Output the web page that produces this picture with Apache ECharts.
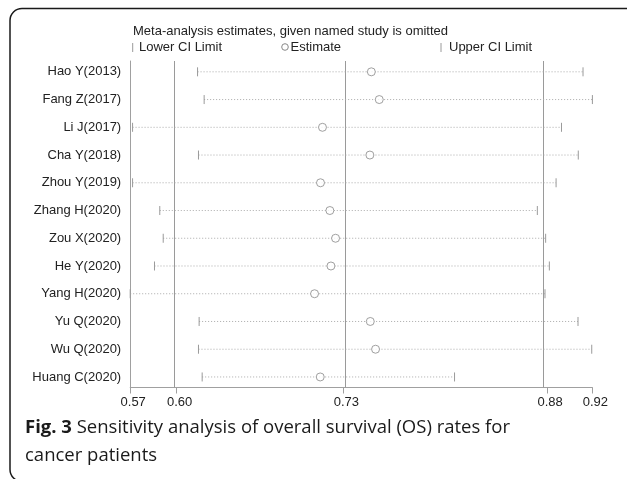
<!DOCTYPE html>
<html><head><meta charset="utf-8">
<script src="https://cdn.jsdelivr.net/npm/echarts@6/dist/echarts.min.js"></script>
<style>html,body{margin:0;padding:0;background:#fff}#c{width:627px;height:479px}</style>
</head><body><div id="c"></div>
<script>
const studies = ['Hao Y(2013)','Fang Z(2017)','Li J(2017)','Cha Y(2018)','Zhou Y(2019)','Zhang H(2020)','Zou X(2020)','He Y(2020)','Yang H(2020)','Yu Q(2020)','Wu Q(2020)','Huang C(2020)'];
const lowerCI  = [0.6180,0.6230,0.5688,0.6187,0.5688,0.5894,0.5920,0.5854,0.5670,0.6192,0.6187,0.6215];
const estimate = [0.7496,0.7556,0.7126,0.7485,0.7111,0.7182,0.7225,0.7190,0.7066,0.7488,0.7528,0.7109];
const upperCI  = [0.9099,0.9170,0.8936,0.9063,0.8895,0.8753,0.8816,0.8844,0.8811,0.9061,0.9165,0.8126];
const overall  = [0.6021,0.7284,0.8827]; // overall lower CI, estimate, upper CI
const legendTitle = 'Meta-analysis estimates, given named study is omitted';
const legendItems = ['Lower CI Limit','Estimate','Upper CI Limit'];
const captionBold = 'Fig. 3';
const captionLine1 = ' Sensitivity analysis of overall survival (OS) rates for';
const captionLine2 = 'cancer patients';

const axisMin = Math.min(...lowerCI), axisMax = Math.max(...upperCI);
const tickValues = [axisMin, ...overall, axisMax];
const rowIdx = studies.map((_, i) => i);

const FONT = 'Arial, "Liberation Sans", sans-serif';
const chart = echarts.init(document.getElementById('c'), null, {renderer: 'canvas'});
const gray = '#9a9a9a';
chart.setOption({
  animation: false,
  backgroundColor: '#fff',
  grid: {left: 130.2, right: 34.6, top: 61, bottom: 91.5, containLabel: false, outerBoundsMode: 'none'},
  xAxis: {
    type: 'value', min: axisMin, max: axisMax,
    axisLine: {show: true, onZero: false, lineStyle: {color: '#a0a0a0', width: 1}},
    axisTick: {show: true, customValues: tickValues, length: 6, lineStyle: {color: '#a0a0a0'}},
    axisLabel: {customValues: tickValues, formatter: v => v.toFixed(2), fontFamily: FONT, fontSize: 13, color: '#222', margin: 8, padding: [0,0,0,6]},
    splitLine: {show: false}
  },
  yAxis: {
    type: 'value', inverse: true, min: -0.39, max: 11.38,
    axisLine: {show: true, onZero: false, lineStyle: {color: '#a0a0a0', width: 1}},
    axisTick: {show: false},
    axisLabel: {customValues: rowIdx, formatter: v => studies[Math.round(v)], fontFamily: FONT, fontSize: 13, color: '#222', margin: 9},
    splitLine: {show: false}
  },
  series: [
    {
      type: 'custom',
      data: studies.map((s, i) => [lowerCI[i], upperCI[i], i]),
      encode: {x: [0, 1], y: 2},
      renderItem: function (params, api) {
        const y = api.value(2);
        const p1 = api.coord([api.value(0), y]);
        const p2 = api.coord([api.value(1), y]);
        const h = 4.5;
        return {type: 'group', children: [
          {type: 'line', shape: {x1: p1[0], y1: p1[1], x2: p2[0], y2: p2[1]}, style: {stroke: '#aaa', lineWidth: 1, lineDash: [1, 2]}},
          {type: 'line', shape: {x1: p1[0], y1: p1[1] - h, x2: p1[0], y2: p1[1] + h}, style: {stroke: gray, lineWidth: 1}},
          {type: 'line', shape: {x1: p2[0], y1: p2[1] - h, x2: p2[0], y2: p2[1] + h}, style: {stroke: gray, lineWidth: 1}}
        ]};
      },
      z: 3
    },
    {
      type: 'scatter',
      data: studies.map((s, i) => [estimate[i], i]),
      symbol: 'circle', symbolSize: 8,
      itemStyle: {color: '#fff', borderColor: '#888', borderWidth: 1},
      z: 4,
      markLine: {
        silent: true, symbol: 'none', label: {show: false},
        lineStyle: {color: gray, type: 'solid', width: 1},
        data: overall.map(v => ({xAxis: v})),
        z: 1
      }
    }
  ],
  graphic: [
    {type: 'rect', shape: {x: 10, y: 8.5, width: 660, height: 473, r: 12}, style: {fill: 'none', stroke: '#1a1a1a', lineWidth: 1.5}, silent: true},
    {type: 'text', x: 133, y: 31.7, style: {text: legendTitle, font: '13px ' + FONT, fill: '#222', verticalAlign: 'middle'}},
    {type: 'line', shape: {x1: 132.7, y1: 43, x2: 132.7, y2: 52}, style: {stroke: gray, lineWidth: 1}},
    {type: 'text', x: 139, y: 47, style: {text: legendItems[0], font: '13px ' + FONT, fill: '#222', verticalAlign: 'middle'}},
    {type: 'circle', shape: {cx: 285, cy: 47, r: 3.3}, style: {fill: '#fff', stroke: '#888', lineWidth: 1}},
    {type: 'text', x: 290.5, y: 47, style: {text: legendItems[1], font: '13px ' + FONT, fill: '#222', verticalAlign: 'middle'}},
    {type: 'line', shape: {x1: 441, y1: 43, x2: 441, y2: 52}, style: {stroke: gray, lineWidth: 1}},
    {type: 'text', x: 449, y: 47, style: {text: legendItems[2], font: '13px ' + FONT, fill: '#222', verticalAlign: 'middle'}},
    {type: 'text', x: 25, y: 428, style: {
      text: '{b|' + captionBold + '}{n|' + captionLine1 + '}',
      verticalAlign: 'middle',
      rich: {
        b: {font: 'bold 18.5px "Open Sans"', fill: '#1a1a1a'},
        n: {font: '18.5px "Open Sans"', fill: '#1a1a1a'}
      }
    }},
    {type: 'text', x: 25, y: 456, style: {text: captionLine2, font: '18.5px "Open Sans"', fill: '#1a1a1a', verticalAlign: 'middle'}}
  ]
});
</script>
</body></html>
